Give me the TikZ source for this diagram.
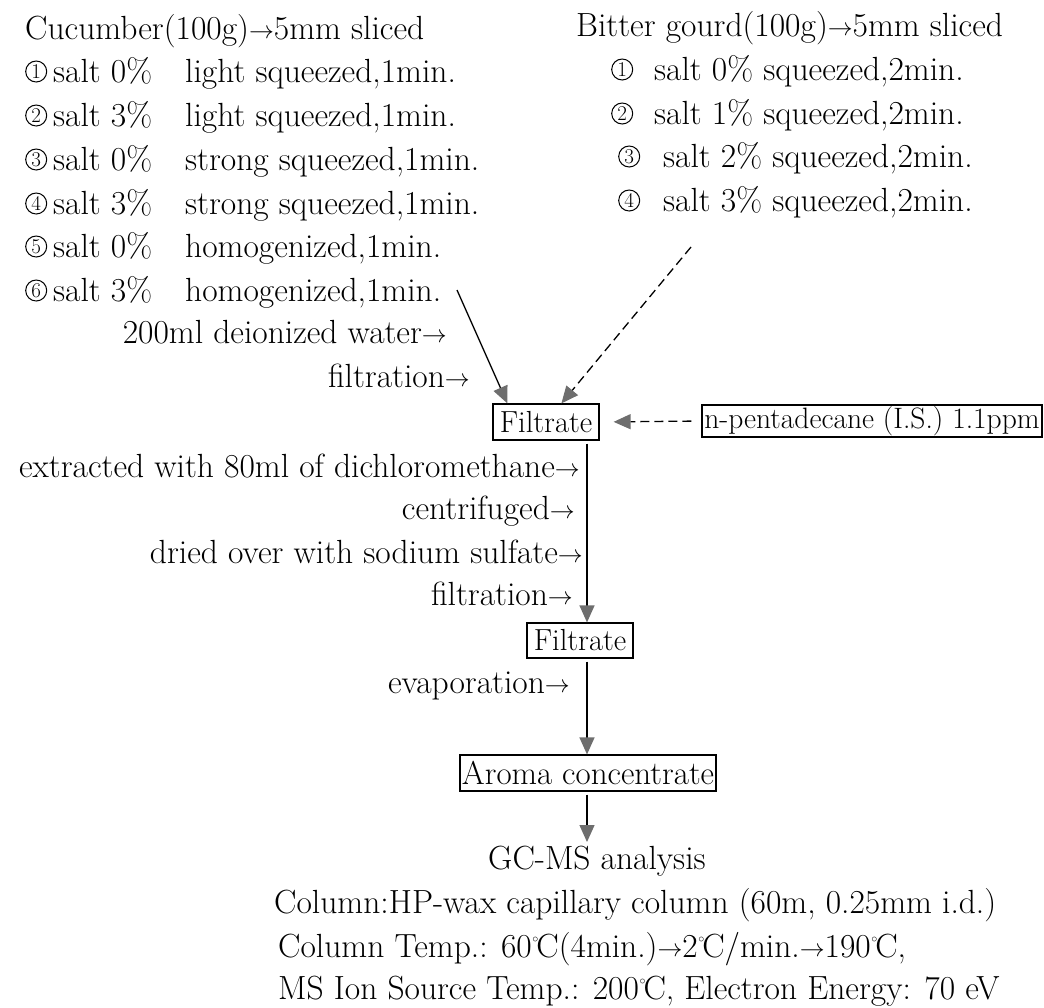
\documentclass[tikz,border=0pt]{standalone}
\usepackage{fontspec}
\usetikzlibrary{arrows.meta,calc}
\definecolor{headgray}{HTML}{6E6E6E}
\newcommand\cdg[1]{\tikz[baseline=0pt]{\draw[line width=1pt] (11pt,10.5pt) circle[radius=10.5pt]; \node[inner sep=0pt,anchor=base,font=\fontsize{21}{21}\selectfont] at (11pt,3.8pt) {#1};}}
\newcommand\dgc{\kern0.5pt\raisebox{0.42em}{\fontsize{13}{13}\selectfont$\circ$}\kern-2pt C}
\newcommand\arr{\raisebox{1pt}{\fontsize{26}{26}\selectfont$\rightarrow$}}
\tikzset{
 txt/.style={font=\fontsize{33.5}{40}\selectfont, inner sep=0pt},
 box/.style={draw, line width=1.2pt, inner sep=0pt},
 flow/.style={line width=1.3pt, -{Triangle[length=17pt,width=15pt,color=headgray,fill=headgray]}},
 dflow/.style={flow, dash pattern=on 9pt off 5pt},
}
\begin{document}
\begin{tikzpicture}[x=1pt,y=-1pt]
\path[use as bounding box] (0,0) rectangle (1044,1007);
% left column
\node[txt, anchor=base west] (cuc) at (25,39) {Cucumber(100g)\arr5mm sliced};
\node[txt, anchor=base west] (c1a) at (25,82) {\makebox[28pt][l]{\cdg{1}}salt 0\%};
\node[txt, anchor=base west] (c1b) at (185,82) {light squeezed,1min.};
\node[txt, anchor=base west] (c2a) at (25,126) {\makebox[28pt][l]{\cdg{2}}salt 3\%};
\node[txt, anchor=base west] (c2b) at (185,126) {light squeezed,1min.};
\node[txt, anchor=base west] (c3a) at (25,170) {\makebox[28pt][l]{\cdg{3}}salt 0\%};
\node[txt, anchor=base west] (c3b) at (185,170) {strong squeezed,1min.};
\node[txt, anchor=base west] (c4a) at (25,214) {\makebox[28pt][l]{\cdg{4}}salt 3\%};
\node[txt, anchor=base west] (c4b) at (185,214) {strong squeezed,1min.};
\node[txt, anchor=base west] (c5a) at (25,257) {\makebox[28pt][l]{\cdg{5}}salt 0\%};
\node[txt, anchor=base west] (c5b) at (185,257) {homogenized,1min.};
\node[txt, anchor=base west] (c6a) at (25,301) {\makebox[28pt][l]{\cdg{6}}salt 3\%};
\node[txt, anchor=base west] (c6b) at (185,301) {homogenized,1min.};
\node[txt, anchor=base east] (water) at (447,343) {200ml deionized water\arr};
\node[txt, anchor=base east] (filt0) at (470,387) {filtration\arr};
% right column
\node[txt, anchor=base west] (bg) at (576,36) {Bitter gourd(100g)\arr5mm sliced};
\node[txt, anchor=base west] (b1) at (611,80) {\makebox[43pt][l]{\cdg{1}}salt 0\% squeezed,2min.};
\node[txt, anchor=base west] (b2) at (611,124) {\makebox[43pt][l]{\cdg{2}}salt 1\% squeezed,2min.};
\node[txt, anchor=base west] (b3) at (618,167) {\makebox[45pt][l]{\cdg{3}}salt 2\% squeezed,2min.};
\node[txt, anchor=base west] (b4) at (618,211) {\makebox[45pt][l]{\cdg{4}}salt 3\% squeezed,2min.};
% boxes
\node[box, font=\fontsize{30.5}{36}\selectfont, minimum width=106pt, minimum height=36pt] (f1) at (546,422) {Filtrate};
\node[box, font=\fontsize{29.5}{34}\selectfont, minimum width=340pt, minimum height=32pt] (pd) at (872,421) {n-pentadecane (I.S.) 1.1ppm};
\node[box, font=\fontsize{30.5}{36}\selectfont, minimum width=106pt, minimum height=35pt] (f2) at (580,640.5) {Filtrate};
\node[box, font=\fontsize{33}{40}\selectfont, minimum width=256pt, minimum height=36pt] (aroma) at (588,773) {Aroma concentrate};
% middle labels
\node[txt, anchor=base east] (ext) at (580,477) {extracted with 80ml of dichloromethane\arr};
\node[txt, anchor=base east] (cen) at (575,519) {centrifuged\arr};
\node[txt, anchor=base east] (dry) at (583,563) {dried over with sodium sulfate\arr};
\node[txt, anchor=base east] (filt1) at (573,605) {filtration\arr};
\node[txt, anchor=base east] (evap) at (570,693) {evaporation\arr};
% bottom
\node[txt, anchor=base west] (gc) at (488,869) {GC-MS analysis};
\node[txt, anchor=base west] (col) at (274,913) {Column:HP-wax capillary column (60m, 0.25mm i.d.)};
\node[txt, anchor=base west] (temp) at (278,957) {Column Temp.: 60\dgc(4min.)\arr2\dgc/min.\arr190\dgc,};
\node[txt, anchor=base west] (ms) at (278,999) {MS Ion Source Temp.: 200\dgc, Electron Energy: 70 eV};
% coordinates
\coordinate (s1) at (457,290);
\coordinate (s2) at (691,247);
\coordinate (ax) at (587,0);
\coordinate (gctop) at (587,842);
% connectors
\draw[flow] (s1) -- ($(f1.north west)+(15,0)$);
\draw[dflow] (s2) -- ($(f1.north west)+(69,0)$);
\draw[dflow, shorten <=10pt, shorten >=14pt] (pd.west) -- (f1.east);
\draw[flow, shorten <=3pt] (f1.south -| ax) -- (f2.north -| ax);
\draw[flow, shorten <=3pt] (f2.south -| ax) -- (aroma.north -| ax);
\draw[flow, shorten <=3pt] (aroma.south -| ax) -- (gctop);
\end{tikzpicture}
\end{document}
